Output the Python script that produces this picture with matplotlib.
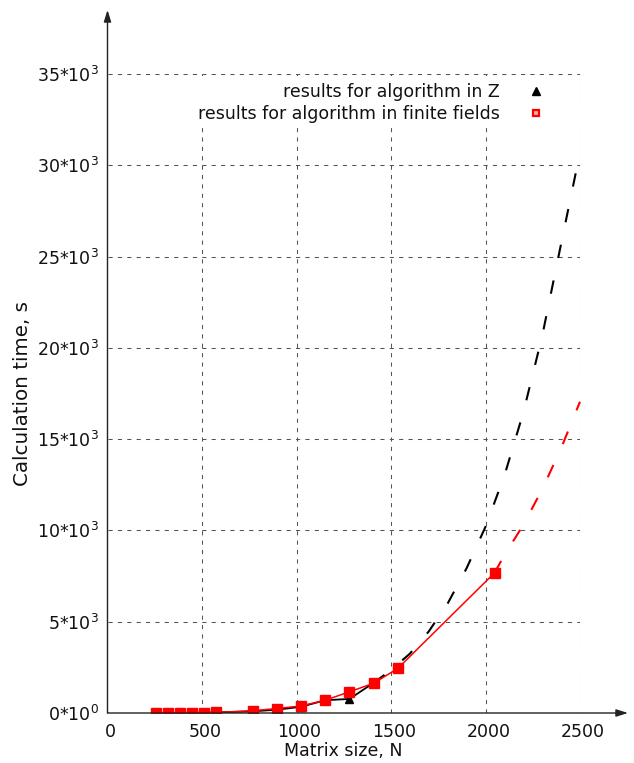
#!/usr/bin/env python

import matplotlib
matplotlib.use("Agg")
import matplotlib.pyplot as plt
import matplotlib.transforms as mtransforms
from matplotlib.lines import Line2D


# measured points, algorithm in Z
n_z = [256, 320, 384, 448, 512, 576, 768, 896, 1024, 1152, 1280, 1408]
t_z = [5, 8, 12, 18, 25, 35, 90, 180, 340, 700, 770, 1650]

# measured points, algorithm in finite fields
n_ff = [256, 320, 384, 448, 512, 576, 768, 896, 1024, 1152, 1280, 1408,
        1536, 2048]
t_ff = [10, 12, 14, 16, 20, 30, 125, 245, 385, 700, 1160, 1630, 2440, 7680]

# extrapolated curves (dashed)
ext_z_n = [1408, 1500, 1600, 1700, 1800, 1900, 2000, 2100, 2200, 2300, 2400,
           2500]
ext_z_t = [1650, 2350, 3250, 4470, 6000, 7930, 10200, 13000, 16450, 20650,
           25700, 30700]
ext_ff_n = [2048, 2100, 2200, 2300, 2400, 2500]
ext_ff_t = [7680, 8650, 10300, 12250, 14500, 17050]

x_ticks = [0, 500, 1000, 1500, 2000, 2500]
y_ticks = [0, 5000, 10000, 15000, 20000, 25000, 30000, 35000]
y_tick_labels = ["0*10$^{0}$"] + [f"{v // 1000}*10$^{{3}}$" for v in y_ticks[1:]]

plt.rcParams['font.family'] = ['DejaVu Sans']
FS = 12.5

W, H = 634, 763
fig = plt.figure(figsize=(W / 100, H / 100), dpi=100)
x0, x1, y0, y1 = 107.5, 580, 713, 74
ax = fig.add_axes([x0 / W, (H - y0) / H, (x1 - x0) / W, (y0 - y1) / H])

ax.plot(n_z, t_z, color='black', lw=1.3, marker='^', ms=6, zorder=3)
ax.plot(n_ff, t_ff, color='red', lw=1.1, marker='s', ms=6.5, zorder=4)
ax.plot(ext_z_n, ext_z_t, color='black', lw=1.5, dashes=(6.5, 11),
        clip_on=False, zorder=3)
ax.plot(ext_ff_n, ext_ff_t, color='red', lw=1.5, dashes=(6.5, 11),
        clip_on=False, zorder=3)

ax.set_xlim(0, 2500)
ax.set_ylim(0, 35000)
ax.set_xticks(x_ticks)
ax.set_yticks(y_ticks)
ax.set_yticklabels(y_tick_labels)
ax.tick_params(axis='both', length=0, labelsize=FS, labelcolor='#111111')
ax.tick_params(axis='x', pad=7)
ax.tick_params(axis='y', pad=6)
shift = mtransforms.ScaledTranslation(3 / 100, 0, fig.dpi_scale_trans)
for lbl in ax.get_xticklabels():
    lbl.set_transform(lbl.get_transform() + shift)
ax.grid(True, color='#555555', lw=0.75, linestyle=(0, (4, 5)))
ax.set_axisbelow(True)
# no grid line on the axes themselves
ax.xaxis.get_gridlines()[0].set_visible(False)
ax.yaxis.get_gridlines()[0].set_visible(False)
for s in ax.spines.values():
    s.set_visible(False)

ax.set_xlabel('Matrix size, N', fontsize=FS, labelpad=1, color='#111111')
ax.set_ylabel('Calculation time, s', fontsize=14.3, labelpad=4, color='#111111')

# axes drawn as arrows, gnuplot style
arrow = dict(arrowstyle='-|>,head_length=0.7,head_width=0.22', color='#222222',
             lw=1.0, shrinkA=0, shrinkB=0)
ax.annotate('', xy=(628 / W, (H - y0) / H), xytext=(x0 / W, (H - y0) / H),
            xycoords='figure fraction', textcoords='figure fraction',
            arrowprops=arrow, zorder=5)
ax.annotate('', xy=(x0 / W, (H - 10) / H), xytext=(x0 / W, (H - y0) / H),
            xycoords='figure fraction', textcoords='figure fraction',
            arrowprops=arrow, zorder=5)

handles = [
    Line2D([], [], color='black', ls='none', marker='^', ms=6),
    Line2D([], [], color='red', ls='none', marker='s', ms=5,
           mfc='#ffb0b0', mec='red', mew=1.6),
]
labels = ['results for algorithm in Z', 'results for algorithm in finite fields']
leg = ax.legend(handles, labels, loc='upper right', bbox_to_anchor=(0.932, 0.991),
                borderaxespad=0, borderpad=0.2, markerfirst=False,
                handlelength=1.0, handletextpad=1.57, labelspacing=0.2,
                fontsize=FS, frameon=True, fancybox=False, framealpha=1,
                facecolor='white', edgecolor='none')
for t in leg.get_texts():
    t.set_color('#111111')

fig.savefig('out.png', dpi=100)
